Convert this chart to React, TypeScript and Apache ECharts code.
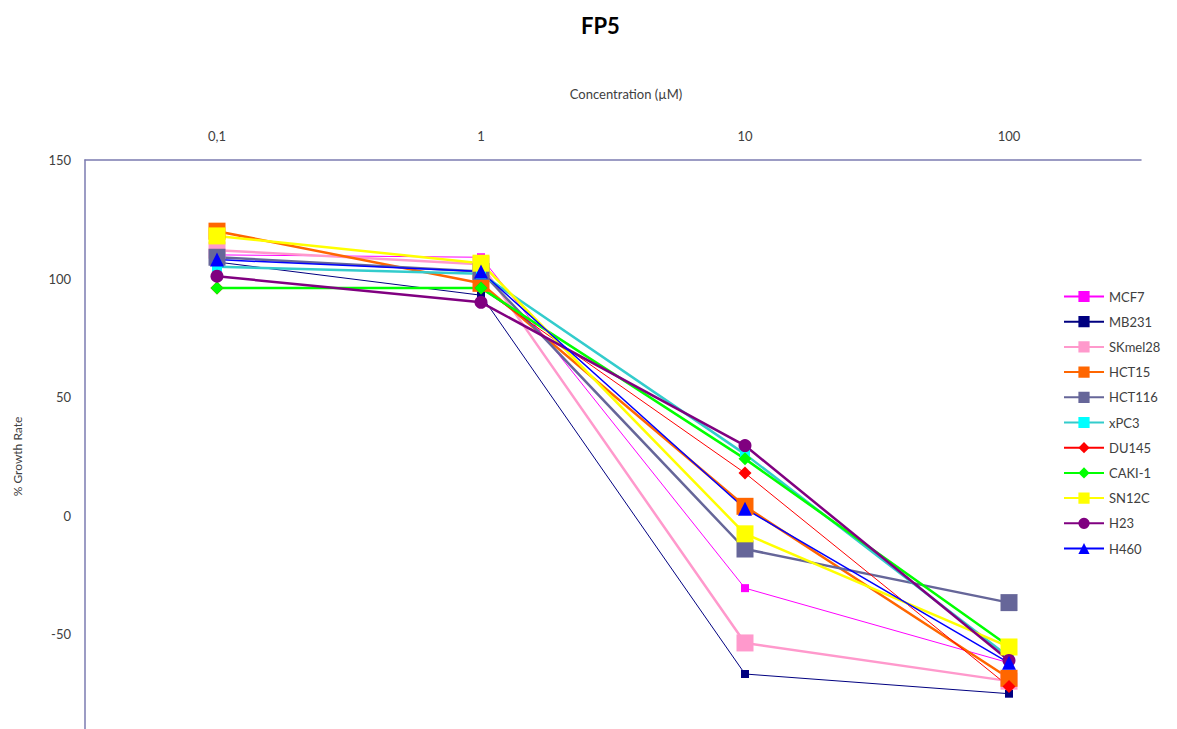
import React, { useEffect, useRef } from "react";
import * as echarts from "echarts";

// Concentrations (µM) shown on the top axis
const concentrations = ["0,1", "1", "10", "100"];

// % growth rate per cell line at each concentration
const MCF7 = [110, 109, -30.5, -62];
const MB231 = [107, 93, -66.7, -75];
const SKmel28 = [112, 106, -53.6, -69.7];
const HCT15 = [120, 98, 4, -68.5];
const HCT116 = [109, 103, -14, -36.6];
const xPC3 = [105, 102, 26, -59.5];
const DU145 = [96, 96, 18, -72];
const CAKI1 = [96, 96, 24, -55];
const SN12C = [118, 106.5, -7.6, -55.3];
const H23 = [101, 90, 29.6, -61];
const H460 = [108, 103, 3, -62];

const yTicks = { min: -100, max: 150, interval: 50 };

type Spec = {
  name: string;
  data: number[];
  line: string;
  marker: string;
  width: number;
  symbol: string;
  size: number;
};

const specs: Spec[] = [
  { name: "MCF7", data: MCF7, line: "#ff00ff", marker: "#ff00ff", width: 1, symbol: "rect", size: 8 },
  { name: "MB231", data: MB231, line: "#000080", marker: "#000080", width: 1, symbol: "rect", size: 8 },
  { name: "SKmel28", data: SKmel28, line: "#ff99cc", marker: "#ff99cc", width: 2.5, symbol: "rect", size: 17 },
  { name: "HCT15", data: HCT15, line: "#ff6600", marker: "#ff6600", width: 2.5, symbol: "rect", size: 17 },
  { name: "HCT116", data: HCT116, line: "#666699", marker: "#666699", width: 2.5, symbol: "rect", size: 17 },
  { name: "xPC3", data: xPC3, line: "#33cccc", marker: "#00ffff", width: 2.5, symbol: "rect", size: 10 },
  { name: "DU145", data: DU145, line: "#ff0000", marker: "#ff0000", width: 1, symbol: "diamond", size: 13 },
  { name: "CAKI-1", data: CAKI1, line: "#00ff00", marker: "#00ff00", width: 2.5, symbol: "diamond", size: 13 },
  { name: "SN12C", data: SN12C, line: "#ffff00", marker: "#ffff00", width: 2.5, symbol: "rect", size: 17 },
  { name: "H23", data: H23, line: "#800080", marker: "#800080", width: 2.5, symbol: "circle", size: 13 },
  { name: "H460", data: H460, line: "#0000ff", marker: "#0000ff", width: 1.5, symbol: "triangle", size: 14 },
];

const FONT = "Lato, 'Open Sans', sans-serif";
const AXIS_COLOR = "#7b7bb0";
const TEXT_COLOR = "#404040";

export default function App() {
  const ref = useRef<HTMLDivElement>(null);

  useEffect(() => {
    if (!ref.current) return;
    // The plot runs past the bottom edge of the window; keep the page from scrolling.
    document.documentElement.style.overflow = "hidden";
    document.body.style.overflow = "hidden";
    const chart = echarts.init(ref.current, undefined, { renderer: "svg" });
    chart.setOption({
      animation: false,
      backgroundColor: "#ffffff",
      textStyle: { fontFamily: FONT },
      title: {
        text: "FP5",
        left: 576,
        top: 9,
        textStyle: { fontSize: 22, fontWeight: "bold", color: "#000000", fontFamily: FONT },
      },
      legend: {
        orient: "vertical",
        left: 1058,
        top: 285,
        itemWidth: 40,
        itemHeight: 14,
        itemGap: 12.2,
        textStyle: { fontSize: 13, color: TEXT_COLOR, fontFamily: FONT },
        data: specs.map((s) => s.name),
      },
      grid: { left: 85, right: 36, top: 160, bottom: 0 },
      xAxis: {
        type: "category",
        position: "top",
        data: concentrations,
        boundaryGap: true,
        name: "Concentration (µM)",
        nameLocation: "middle",
        nameGap: 60,
        nameTextStyle: { fontSize: 13, color: TEXT_COLOR, padding: [0, 0, 0, 26] },
        axisLine: { onZero: false, lineStyle: { color: AXIS_COLOR, width: 1.5 } },
        axisTick: { show: false },
        axisLabel: { margin: 18, fontSize: 13, color: TEXT_COLOR },
        splitLine: { show: false },
      },
      yAxis: {
        type: "value",
        min: yTicks.min,
        max: yTicks.max,
        interval: yTicks.interval,
        name: "% Growth Rate",
        nameLocation: "middle",
        nameGap: 62,
        nameTextStyle: { fontSize: 12, color: TEXT_COLOR },
        axisLine: { show: true, onZero: false, lineStyle: { color: AXIS_COLOR, width: 1.5 } },
        axisTick: { show: false },
        axisLabel: { margin: 14, fontSize: 13, color: TEXT_COLOR, showMinLabel: false },
        splitLine: { show: false },
      },
      series: specs.map((s) => ({
        name: s.name,
        type: "line",
        data: s.data,
        symbol: s.symbol,
        symbolSize: s.size,
        showAllSymbol: true,
        lineStyle: { color: s.line, width: s.width },
        itemStyle: { color: s.marker, borderWidth: 0 },
        emphasis: { disabled: true },
      })),
    });
    return () => chart.dispose();
  }, []);

  return (
    <div
      ref={ref}
      style={{ position: "absolute", left: 0, top: 0, width: 1177, height: 753 }}
    />
  );
}
